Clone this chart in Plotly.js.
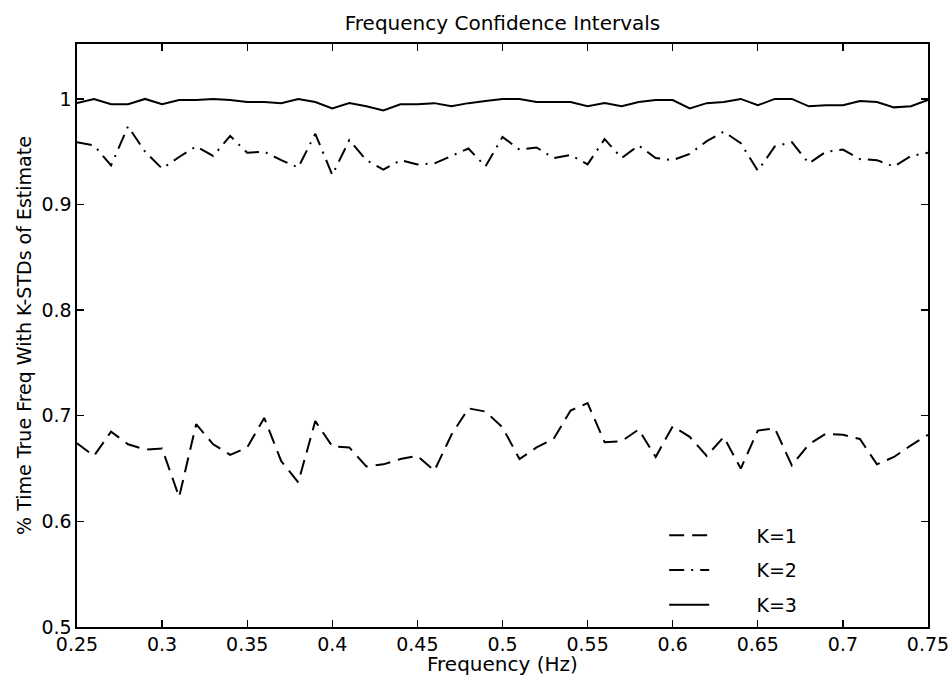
<!DOCTYPE html>
<html>
<head>
<meta charset="utf-8">
<script src="https://cdn.plot.ly/plotly-3.0.1.min.js"></script>
<style>
  html, body { margin: 0; padding: 0; background: #fff; }
  #chart { width: 951px; height: 678px; }
</style>
</head>
<body>
<div id="chart"></div>
<script>
// Frequency grid (Hz)
const freq = [
  0.25, 0.26, 0.27, 0.28, 0.29, 0.30, 0.31, 0.32, 0.33, 0.34,
  0.35, 0.36, 0.37, 0.38, 0.39, 0.40, 0.41, 0.42, 0.43, 0.44,
  0.45, 0.46, 0.47, 0.48, 0.49, 0.50, 0.51, 0.52, 0.53, 0.54,
  0.55, 0.56, 0.57, 0.58, 0.59, 0.60, 0.61, 0.62, 0.63, 0.64,
  0.65, 0.66, 0.67, 0.68, 0.69, 0.70, 0.71, 0.72, 0.73, 0.74, 0.75
];

// Fraction of trials where the true frequency lies within K standard deviations
const k1 = [
  0.674, 0.662, 0.685, 0.673, 0.668, 0.669, 0.623, 0.692, 0.673, 0.663,
  0.670, 0.698, 0.657, 0.637, 0.695, 0.671, 0.670, 0.652, 0.654, 0.659,
  0.662, 0.648, 0.682, 0.707, 0.704, 0.689, 0.659, 0.670, 0.678, 0.705,
  0.712, 0.675, 0.676, 0.687, 0.661, 0.690, 0.680, 0.662, 0.680, 0.650,
  0.686, 0.688, 0.653, 0.673, 0.683, 0.682, 0.678, 0.654, 0.661, 0.672, 0.682
];
const k2 = [
  0.959, 0.956, 0.937, 0.974, 0.950, 0.934, 0.945, 0.955, 0.946, 0.965,
  0.949, 0.950, 0.942, 0.935, 0.967, 0.928, 0.961, 0.942, 0.933, 0.942,
  0.938, 0.939, 0.946, 0.953, 0.936, 0.964, 0.952, 0.954, 0.944, 0.947,
  0.938, 0.962, 0.944, 0.956, 0.944, 0.942, 0.948, 0.960, 0.969, 0.958,
  0.932, 0.955, 0.959, 0.939, 0.950, 0.952, 0.943, 0.942, 0.936, 0.946, 0.949
];
const k3 = [
  0.996, 1.000, 0.995, 0.995, 1.000, 0.995, 0.999, 0.999, 1.000, 0.999,
  0.997, 0.997, 0.996, 1.000, 0.997, 0.991, 0.996, 0.993, 0.989, 0.995,
  0.995, 0.996, 0.993, 0.996, 0.998, 1.000, 1.000, 0.997, 0.997, 0.997,
  0.993, 0.996, 0.993, 0.997, 0.999, 0.999, 0.991, 0.996, 0.997, 1.000,
  0.994, 1.000, 1.000, 0.993, 0.994, 0.994, 0.998, 0.997, 0.992, 0.993, 0.999
];

const seriesNames = ['K=1', 'K=2', 'K=3'];
const xTicks = [0.25, 0.3, 0.35, 0.4, 0.45, 0.5, 0.55, 0.6, 0.65, 0.7, 0.75];
const xTickText = ['0.25', '0.3', '0.35', '0.4', '0.45', '0.5', '0.55', '0.6', '0.65', '0.7', '0.75'];
const yTicks = [0.5, 0.6, 0.7, 0.8, 0.9, 1.0];
const yTickText = ['0.5', '0.6', '0.7', '0.8', '0.9', '1'];

const FONT = 'DejaVu Sans, Liberation Sans, Arial, sans-serif';
const pad = '\u00a0\u00a0\u00a0\u00a0\u00a0\u00a0\u00a0';

const traces = [
  { y: k1, dash: '15px,8px' },
  { y: k2, dash: '15px,7px,2px,7px' },
  { y: k3, dash: 'solid' }
].map((s, i) => ({
  x: freq,
  y: s.y,
  type: 'scatter',
  mode: 'lines',
  name: pad + seriesNames[i],
  legendgroup: 'g' + i,
  line: { color: '#000', width: 2, dash: s.dash }
}));

const axisCommon = {
  showgrid: false,
  zeroline: false,
  showline: true,
  linecolor: '#000',
  linewidth: 1.6,
  mirror: 'ticks',
  ticks: 'inside',
  ticklen: 7,
  tickwidth: 1.3,
  tickcolor: '#000',
  tickfont: { family: FONT, size: 19, color: '#000' }
};

const layout = {
  width: 951,
  height: 678,
  paper_bgcolor: '#fff',
  plot_bgcolor: '#fff',
  margin: { l: 77, r: 23, t: 44, b: 51 },
  title: {
    text: 'Frequency Confidence Intervals',
    font: { family: FONT, size: 20, color: '#000' },
    x: 0.5, xref: 'paper', y: 0.966, yanchor: 'middle'
  },
  xaxis: Object.assign({}, axisCommon, {
    range: [0.25, 0.75],
    tickvals: xTicks,
    ticktext: xTickText,
    ticklabelstandoff: 0
  }),
  yaxis: Object.assign({}, axisCommon, {
    range: [0.5, 1.052],
    tickvals: yTicks,
    ticktext: yTickText,
    title: { text: '% Time True Freq With K-STDs of Estimate', font: { family: FONT, size: 19, color: '#000' }, standoff: 5 }
  }),
  // x-axis caption sits just under the tick labels
  annotations: [{
    text: 'Frequency (Hz)',
    xref: 'paper', yref: 'paper',
    x: 0.5, y: -0.088,
    xanchor: 'center', yanchor: 'bottom',
    showarrow: false,
    font: { family: FONT, size: 20, color: '#000' }
  }],
  showlegend: true,
  legend: {
    x: 0.69, y: 0.097, xanchor: 'left', yanchor: 'middle',
    bgcolor: 'rgba(0,0,0,0)',
    borderwidth: 0,
    tracegroupgap: 7,
    itemwidth: 40,
    font: { family: FONT, size: 19, color: '#000' }
  }
};

Plotly.newPlot('chart', traces, layout, { displayModeBar: false, staticPlot: true });
</script>
</body>
</html>
